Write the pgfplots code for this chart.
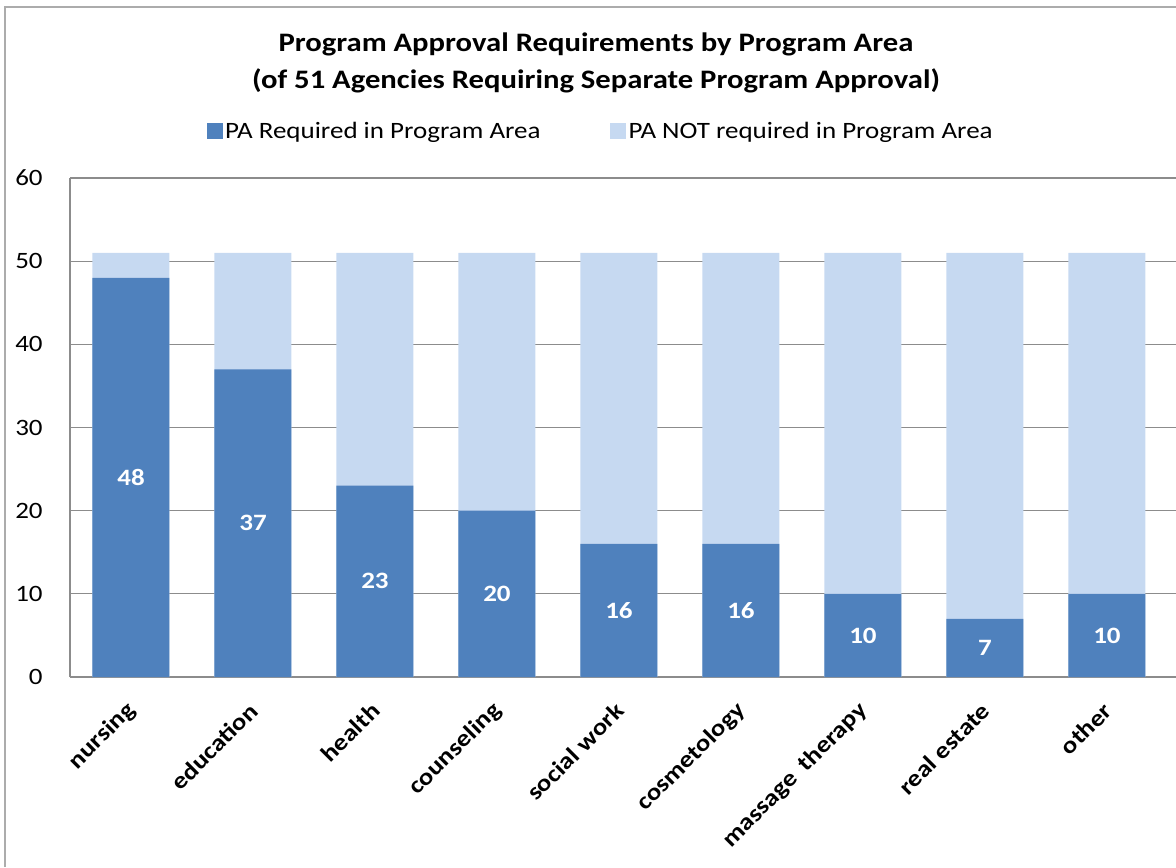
\documentclass[border=0pt]{standalone}
\usepackage{fontspec}
\setmainfont{Carlito}[FakeStretch=1.15]
\usepackage{pgfplots}
\usepackage{pgfplotstable}
\pgfplotsset{compat=1.18}

\definecolor{paDark}{HTML}{4F81BD}
\definecolor{paLight}{HTML}{C6D9F1}
\definecolor{gridgray}{HTML}{8C8C8C}

% idx: nursing, education, health, counseling, social work, cosmetology, massage therapy, real estate, other
\pgfplotstableread{
idx req notreq
0 48 3
1 37 14
2 23 28
3 20 31
4 16 35
5 16 35
6 10 41
7 7 44
8 10 41
}\padata

\begin{document}
\begin{tikzpicture}
\useasboundingbox (0,0) rectangle (882pt,650.25pt);
\draw[gray!65, line width=1.1pt] (3.75pt,0) -- (3.75pt,645pt) -- (882pt,645pt);
\begin{axis}[
  at={(52.5pt,142.5pt)}, anchor=south west,
  scale only axis, width=829.5pt, height=374.25pt,
  ybar, bar shift=0pt, bar width=57.75pt,
  xmin=-0.5, xmax=8.566, ymin=0, ymax=60,
  ytick={0,10,...,60},
  xtick={0,...,8},
  xticklabels={nursing,education,health,counseling,social work,cosmetology,massage\hspace{0.45em}therapy,real estate,other},
  axis x line*=bottom, axis y line*=left,
  axis line style={draw=gridgray, line width=0.9pt, -},
  major tick length=0pt,
  ymajorgrids, grid style={draw=gridgray, line width=0.9pt},
  /pgf/number format/assume math mode=true,
  yticklabel style={font=\fontsize{17.6}{21}\selectfont, xshift=-17pt},
  xticklabel style={font=\bfseries\fontsize{17.6}{21}\selectfont, xshift=3pt, yshift=-20pt, rotate=45, anchor=east},
  title={Program Approval Requirements by Program Area\\(of 51 Agencies Requiring Separate Program Approval)},
  title style={at={(0.4756,1.2145)}, anchor=center, align=center, font=\bfseries\fontsize{20}{27.75}\selectfont},
  legend columns=2,
  legend style={at={(0.480,1.094)}, anchor=center, draw=none, fill=none,
    font=\fontsize{17.6}{21}\selectfont,
    /tikz/every even column/.append style={column sep=50pt}},
  legend image code/.code={\fill[#1] (0pt,-6pt) rectangle (12pt,6pt);},
]
% whole bar (required + not required), drawn first
\addplot[fill=paLight, draw=none, forget plot]
  table[x=idx, y expr=\thisrow{req}+\thisrow{notreq}] {\padata};
\addplot[fill=paDark, draw=none] table[x=idx, y=req] {\padata};
\addlegendentry{PA Required in Program Area}
\addlegendimage{fill=paLight, draw=none}
\addlegendentry{PA NOT required in Program Area}
% value labels in the middle of the dark bars
\addplot[draw=none, fill=none, forget plot,
  point meta=explicit,
  nodes near coords,
  every node near coord/.append style={anchor=center, text=white,
    font=\bfseries\fontsize{17.6}{21}\selectfont}]
  table[x=idx, y expr=\thisrow{req}/2, meta=req] {\padata};
\end{axis}
\end{tikzpicture}
\end{document}
